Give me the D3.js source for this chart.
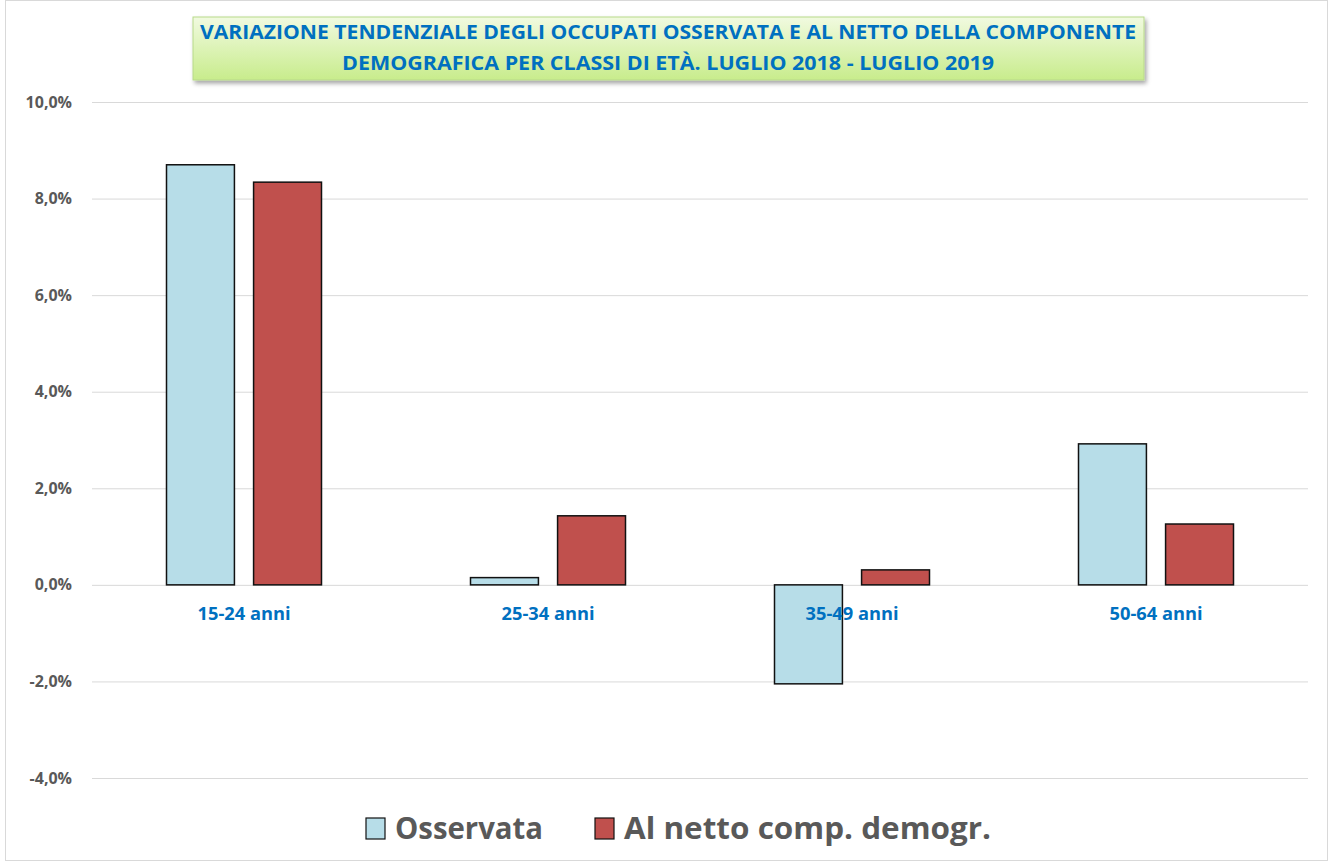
<!DOCTYPE html>
<html>
<head>
<meta charset="utf-8">
<script src="https://cdn.jsdelivr.net/npm/d3@7"></script>
<style>
  body { margin: 0; background: #fff; }
  text { font-family: "Liberation Sans Narrow", "Open Sans", sans-serif; font-weight: bold; }
</style>
</head>
<body>
<div id="vis"></div>
<script>
var categories = ['15-24 anni', '25-34 anni', '35-49 anni', '50-64 anni'];
var seriesNames = ['Osservata', 'Al netto comp. demogr.'];
var osservata = [8.70, 0.15, -2.05, 2.92];
var alNetto = [8.34, 1.43, 0.31, 1.26];
var yTicks = [-4, -2, 0, 2, 4, 6, 8, 10];
var titleLines = ['VARIAZIONE TENDENZIALE DEGLI OCCUPATI OSSERVATA E AL NETTO DELLA COMPONENTE',
                  'DEMOGRAFICA PER CLASSI DI ETÀ. LUGLIO 2018 - LUGLIO 2019'];

var colors = ['#B7DDE8', '#C0504D'];

var width = 1331, height = 861;
var margin = { left: 92, right: 23, top: 102, bottom: 83 };
var drawWidth = width - margin.left - margin.right;
var drawHeight = height - margin.top - margin.bottom;

var svg = d3.select('#vis').append('svg')
            .attr('width', width)
            .attr('height', height);

// outer frame
svg.append('rect')
   .attr('x', 5.5).attr('y', 0.5)
   .attr('width', width - 9).attr('height', height - 1)
   .attr('fill', 'none')
   .attr('stroke', '#d9d9d9');

var defs = svg.append('defs');
var grad = defs.append('linearGradient').attr('id', 'tg').attr('x1', 0).attr('y1', 0).attr('x2', 0).attr('y2', 1);
grad.append('stop').attr('offset', '0%').attr('stop-color', '#f1fae0');
grad.append('stop').attr('offset', '100%').attr('stop-color', '#c8ec8c');
var filt = defs.append('filter').attr('id', 'sh').attr('x', '-5%').attr('y', '-20%').attr('width', '110%').attr('height', '150%');
filt.append('feDropShadow').attr('dx', 2).attr('dy', 3).attr('stdDeviation', 2).attr('flood-color', '#000').attr('flood-opacity', 0.35);

var g = svg.append('g').attr('transform', `translate(${margin.left}, ${margin.top})`);

var yScale = d3.scaleLinear().domain([-4, 10]).range([drawHeight, 0]);
var xScale = d3.scaleBand().domain(categories).range([0, drawWidth]).paddingInner(0).paddingOuter(0);
var xInner = d3.scaleBand().domain(seriesNames).range([0, 155]).paddingInner(0.22);

// gridlines
var yAxis = d3.axisLeft(yScale)
              .tickValues(yTicks)
              .tickSize(-drawWidth)
              .tickPadding(20)
              .tickFormat((d) => d3.format('.1f')(d).replace('.', ',').replace('−', '-') + '%');
var yAxisG = g.append('g').call(yAxis);
yAxisG.select('.domain').remove();
yAxisG.selectAll('line').attr('stroke', '#d9d9d9').attr('stroke-width', 1);
yAxisG.selectAll('text')
      .attr('fill', '#595959')
      .style('font-family', '"Open Sans", sans-serif')
      .style('font-size', '16px')
      .style('font-weight', 'bold');

var data = categories.map((c, i) => ({ cat: c, values: [osservata[i], alNetto[i]] }));

var groups = g.selectAll('.grp')
              .data(data)
              .enter()
              .append('g')
              .attr('class', 'grp')
              .attr('transform', (d) => `translate(${xScale(d.cat) + xScale.bandwidth() / 2 - 77.5}, 0)`);

groups.selectAll('rect')
      .data((d) => d.values.map((v, i) => ({ name: seriesNames[i], v: v, i: i })))
      .enter()
      .append('rect')
      .attr('x', (d) => xInner(d.name))
      .attr('width', xInner.bandwidth())
      .attr('y', (d) => yScale(Math.max(0, d.v)))
      .attr('height', (d) => Math.abs(yScale(d.v) - yScale(0)))
      .attr('fill', (d) => colors[d.i])
      .attr('stroke', '#111')
      .attr('stroke-width', 1.5);

// category labels
g.selectAll('.cat')
 .data(categories)
 .enter()
 .append('text')
 .attr('class', 'cat')
 .attr('x', (d) => xScale(d) + xScale.bandwidth() / 2)
 .attr('y', yScale(0) + 35)
 .attr('text-anchor', 'middle')
 .attr('fill', '#0070C0')
 .style('font-family', '"Open Sans", sans-serif')
 .style('font-size', '18px')
 .attr('textLength', 93)
 .attr('lengthAdjust', 'spacingAndGlyphs')
 .text((d) => d);

// title box
svg.append('rect')
   .attr('x', 193).attr('y', 17)
   .attr('width', 951).attr('height', 63)
   .attr('fill', 'url(#tg)')
   .attr('stroke', '#b8d98a')
   .attr('filter', 'url(#sh)');

svg.selectAll('.title')
   .data(titleLines)
   .enter()
   .append('text')
   .attr('class', 'title')
   .attr('x', 668)
   .attr('y', (d, i) => 39 + i * 31)
   .attr('text-anchor', 'middle')
   .attr('fill', '#0070C0')
   .style('font-size', '20px')
   .attr('textLength', (d, i) => i === 0 ? 936 : 652)
   .attr('lengthAdjust', 'spacingAndGlyphs')
   .text((d) => d);

// legend
var legendX = [366, 595];
var legendW = [148, 367];
var legend = svg.selectAll('.legend')
                .data(seriesNames)
                .enter()
                .append('g')
                .attr('class', 'legend')
                .attr('transform', (d, i) => `translate(${legendX[i]}, 818)`);

legend.append('rect')
      .attr('width', 19)
      .attr('height', 21)
      .attr('fill', (d, i) => colors[i])
      .attr('stroke', '#111')
      .attr('stroke-width', 1.2);

legend.append('text')
      .attr('x', 29)
      .attr('y', 21)
      .attr('fill', '#595959')
      .style('font-size', '31px')
      .attr('textLength', (d, i) => legendW[i])
      .attr('lengthAdjust', 'spacingAndGlyphs')
      .text((d) => d);
</script>
</body>
</html>
